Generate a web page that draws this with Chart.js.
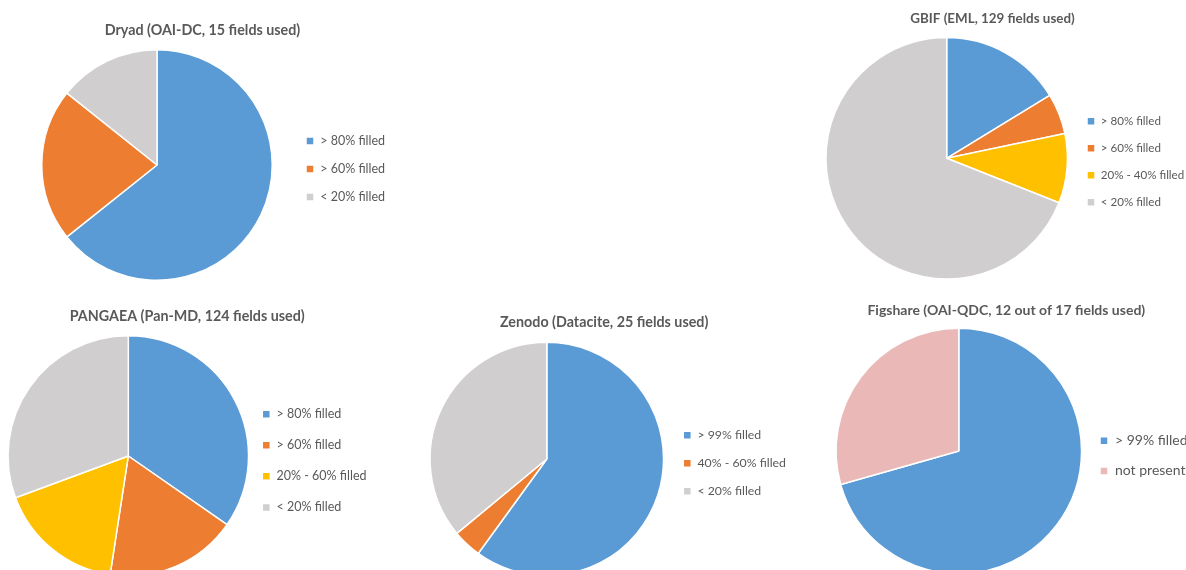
<!DOCTYPE html>
<html>
<head>
<meta charset="utf-8">
<script src="https://cdn.jsdelivr.net/npm/chart.js@4"></script>
<style>
  html, body { margin: 0; padding: 0; background: #fff; width: 1186px; height: 570px; overflow: hidden; }
  .box { position: absolute; }
</style>
</head>
<body>
<div class="box" id="wDryad"><canvas id="cDryad"></canvas></div>
<div class="box" id="wGbif"><canvas id="cGbif"></canvas></div>
<div class="box" id="wPangaea"><canvas id="cPangaea"></canvas></div>
<div class="box" id="wZenodo"><canvas id="cZenodo"></canvas></div>
<div class="box" id="wFigshare"><canvas id="cFigshare"></canvas></div>
<script>
// data (number of metadata fields per fill-rate class)
const dryadLabels = ["> 80% filled", "> 60% filled", "< 20% filled"];
const dryadValues = [9, 3, 2];

const gbifLabels = ["> 80% filled", "> 60% filled", "20% - 40% filled", "< 20% filled"];
const gbifValues = [21, 7, 12, 89];

const pangaeaLabels = ["> 80% filled", "> 60% filled", "20% - 60% filled", "< 20% filled"];
const pangaeaValues = [43, 22, 21, 38];

const zenodoLabels = ["> 99% filled", "40% - 60% filled", "< 20% filled"];
const zenodoValues = [15, 1, 9];

const figshareLabels = ["> 99% filled", "not present"];
const figshareValues = [12, 5];

const BLUE = "#5B9BD5", ORANGE = "#ED7D31", YELLOW = "#FFC000", GRAY = "#D0CECE", PINK = "#EBB8B8";
const FONT = "Lato";
const TXT = "#595959";

// legend nudge: fixed legend width for layout, then move legend to chosen spot
const legendNudge = {
  id: "legendNudge",
  beforeUpdate(chart, args, opts) {
    const lg = chart.legend;
    if (lg && !lg._patched) {
      const orig = lg.fit;
      lg.fit = function () { orig.call(this); this.width = opts.width; };
      lg._patched = true;
    }
  },
  afterLayout(chart, args, opts) {
    const lg = chart.legend;
    const pad = chart.options.plugins.legend.labels.padding;
    lg.left = opts.x - pad;
    lg.width = 200;
    lg.maxWidth = 200;
    lg.right = lg.left + 200;
    lg.top += opts.dy;
    lg.bottom += opts.dy;
  }
};

function makePie(id, wrapId, title, labels, values, colors, g) {
  const wrap = document.getElementById(wrapId);
  wrap.style.left = g.left + "px";
  wrap.style.top = g.top + "px";
  wrap.style.width = g.W + "px";
  wrap.style.height = g.H + "px";

  const e = 1;
  const tLine = g.titleSize * 1.2;
  const tPadTop = g.ty - g.top - tLine / 2;
  const tPadBottom = (g.cy - g.r - e) - g.top - tPadTop - tLine;
  const lw = 2 * (g.tx - g.cx);
  const padL = g.cx - g.r - e - g.left;
  const padR = g.left + g.W - (g.cx + g.r + e + lw);
  const padB = g.top + g.H - (g.cy + g.r + e);

  new Chart(document.getElementById(id), {
    type: "pie",
    data: {
      labels: labels,
      datasets: [{
        data: values,
        backgroundColor: colors,
        borderColor: "#ffffff",
        borderWidth: 1.5
      }]
    },
    options: {
      responsive: true,
      maintainAspectRatio: false,
      animation: false,
      layout: { padding: { left: padL, right: padR, top: 0, bottom: padB } },
      plugins: {
        title: {
          display: true,
          text: title,
          color: TXT,
          font: { family: FONT, size: g.titleSize, weight: "bold" },
          padding: { top: tPadTop, bottom: tPadBottom }
        },
        legend: {
          position: "right",
          fullSize: false,
          labels: {
            color: TXT,
            font: { family: FONT, size: g.fontSize },
            boxWidth: 8,
            boxHeight: 8,
            padding: g.spacing - g.fontSize
          }
        },
        legendNudge: { width: lw, x: g.bx - g.left, dy: g.ly - g.cy },
        tooltip: { enabled: false }
      }
    },
    plugins: [legendNudge]
  });
}

makePie("cDryad", "wDryad", "Dryad (OAI-DC, 15 fields used)", dryadLabels, dryadValues,
  [BLUE, ORANGE, GRAY],
  { left: 0, top: 0, W: 410, H: 295, cx: 157, cy: 165, r: 115, tx: 202.5, ty: 30,
    bx: 306, ly: 169, spacing: 28, fontSize: 12.5, titleSize: 14.3 });

makePie("cGbif", "wGbif", "GBIF (EML, 129 fields used)", gbifLabels, gbifValues,
  [BLUE, ORANGE, YELLOW, GRAY],
  { left: 790, top: 0, W: 396, H: 295, cx: 946.7, cy: 158.3, r: 120.5, tx: 992.5, ty: 18.3,
    bx: 1087, ly: 161.7, spacing: 27, fontSize: 11.6, titleSize: 13.4 });

makePie("cPangaea", "wPangaea", "PANGAEA (Pan-MD, 124 fields used)", pangaeaLabels, pangaeaValues,
  [BLUE, ORANGE, YELLOW, GRAY],
  { left: 0, top: 295, W: 410, H: 290, cx: 128.3, cy: 456, r: 120, tx: 187.2, ty: 316.7,
    bx: 262.3, ly: 460.8, spacing: 31.1, fontSize: 12.5, titleSize: 14.3 });

makePie("cZenodo", "wZenodo", "Zenodo (Datacite, 25 fields used)", zenodoLabels, zenodoValues,
  [BLUE, ORANGE, GRAY],
  { left: 415, top: 295, W: 390, H: 290, cx: 546.8, cy: 459, r: 116.5, tx: 604.2, ty: 322.7,
    bx: 683.3, ly: 463.3, spacing: 28, fontSize: 12.3, titleSize: 14.3 });

makePie("cFigshare", "wFigshare", "Figshare (OAI-QDC, 12 out of 17 fields used)", figshareLabels, figshareValues,
  [BLUE, PINK],
  { left: 810, top: 295, W: 376, H: 290, cx: 958.8, cy: 451, r: 122.5, tx: 1006.3, ty: 310.7,
    bx: 1100, ly: 455.8, spacing: 30.3, fontSize: 14, titleSize: 14 });
</script>
</body>
</html>
